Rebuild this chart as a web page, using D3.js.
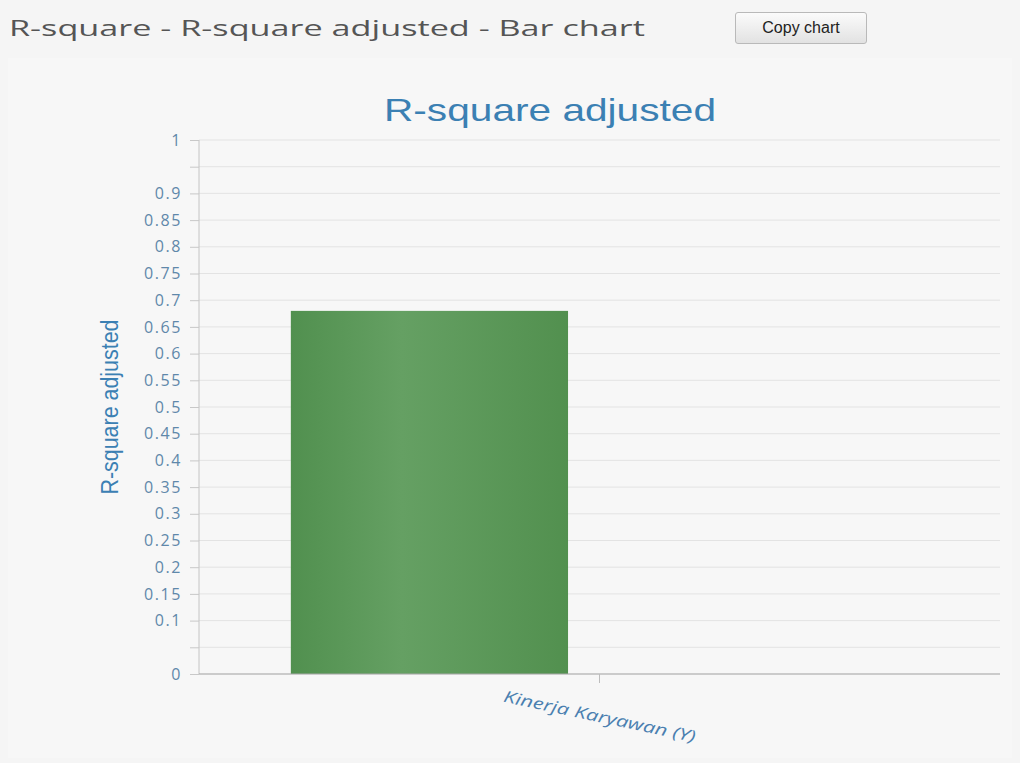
<!DOCTYPE html>
<html>
<head>
<meta charset="utf-8">
<script src="https://cdn.jsdelivr.net/npm/d3@7"></script>
<style>
  body { margin: 0; background: #f5f5f5; font-family: "Open Sans", sans-serif; }
  .copybtn { position: absolute; left: 735px; top: 12px; width: 132px; height: 32px; border: 1px solid #b9b9b9; border-radius: 3px;
    background: linear-gradient(#fbfbfb, #e2e2e2); font-family: "Liberation Sans Narrow", "Liberation Sans", Arial, sans-serif; font-size: 16px; color: #222;
    box-sizing: border-box; text-align: center; line-height: 30px; }
  #chart { position: absolute; left: 0; top: 0; }
</style>
</head>
<body>
<svg id="chart"></svg>
<div class="copybtn">Copy chart</div>
<script>
// data
var categories = ["Kinerja Karyawan (Y)"];
var series = ["R-square adjusted", ""];
var values = [0.68];
var yTicks = [0, 0.05, 0.1, 0.15, 0.2, 0.25, 0.3, 0.35, 0.4, 0.45, 0.5, 0.55, 0.6, 0.65, 0.7, 0.75, 0.8, 0.85, 0.9, 0.95, 1];
var hiddenLabels = [0.05, 0.95];

var W = 1020, H = 763;
var margin = {top: 140, right: 20, bottom: 89, left: 199},
    width = W - margin.left - margin.right,
    height = H - margin.top - margin.bottom;

var root = d3.select("#chart").attr("width", W).attr("height", H);

var defs = root.append("defs");
var grad = defs.append("linearGradient").attr("id", "barGrad")
  .attr("x1", "0%").attr("x2", "100%").attr("y1", "0%").attr("y2", "0%");
grad.append("stop").attr("offset", "0%").attr("stop-color", "#51904f");
grad.append("stop").attr("offset", "40%").attr("stop-color", "#65a063");
grad.append("stop").attr("offset", "100%").attr("stop-color", "#52904f");

// plot background panel
root.append("rect").attr("x", 8).attr("y", 58).attr("width", 1004).attr("height", 700).attr("fill", "#f7f7f7");

// page header
root.append("text")
  .attr("x", 9).attr("y", 36)
  .attr("fill", "#555")
  .attr("textLength", 636).attr("lengthAdjust", "spacingAndGlyphs")
  .style("font-family", "'Open Sans', sans-serif")
  .style("font-weight", 400)
  .style("font-size", "21px")
  .text("R-square - R-square adjusted - Bar chart");

// title
root.append("text")
  .attr("x", 550).attr("y", 121)
  .attr("text-anchor", "middle")
  .attr("fill", "#3b80b3")
  .attr("textLength", 332).attr("lengthAdjust", "spacingAndGlyphs")
  .style("font-family", "'Liberation Sans', Arial, sans-serif")
  .style("font-size", "32px")
  .text("R-square adjusted");

const svg = root.append("g")
  .attr("transform", `translate(${margin.left}, ${margin.top})`);

const y = d3.scaleLinear().domain([0, 1]).range([height, 0]);

const x = d3.scaleBand().domain(categories).range([0, width]).padding(0);
const x1 = d3.scaleBand().domain(series).range([0, x.bandwidth()])
  .paddingInner(0.185).paddingOuter(0.27);

// gridlines
svg.append("g")
  .selectAll("line")
  .data(yTicks)
  .join("line")
  .attr("x1", 0).attr("x2", width)
  .attr("y1", d => y(d)).attr("y2", d => y(d))
  .attr("stroke", "#e3e3e3")
  .attr("stroke-width", 1);

// y axis
const yAxis = svg.append("g")
  .call(d3.axisLeft(y).tickValues(yTicks).tickSize(9).tickPadding(8)
    .tickFormat(d => hiddenLabels.includes(d) ? "" : d3.format("~g")(d)));
yAxis.select(".domain").attr("stroke", "#c4c4c4").attr("d", `M0,0V${height}`);
yAxis.selectAll(".tick line").attr("stroke", "#c8c8c8");
yAxis.selectAll("text")
  .attr("fill", "#5f88aa")
  .style("font-family", "'Open Sans', sans-serif")
  .style("font-size", "16px")
  .style("letter-spacing", "1.6px");

// bars
svg.selectAll("rect.bar")
  .data(values)
  .join("rect")
  .attr("class", "bar")
  .attr("x", (d, i) => x(categories[i]) + x1(series[0]))
  .attr("width", x1.bandwidth())
  .attr("y", d => y(d))
  .attr("height", d => height - y(d))
  .attr("fill", "url(#barGrad)");

// x axis
const xAxis = svg.append("g")
  .attr("transform", `translate(0,${height})`)
  .call(d3.axisBottom(x).tickSize(9).tickFormat(""));
xAxis.select(".domain").attr("stroke", "#a9a9a9").attr("d", `M0,0H${width}`);
xAxis.selectAll(".tick line").attr("stroke", "#bdbdbd");

// x category label (rotated)
svg.append("g")
  .selectAll("text")
  .data(categories)
  .join("text")
  .attr("transform", d => `translate(${x(d) + x.bandwidth() / 2 - 1},${height + 48}) rotate(12)`)
  .attr("text-anchor", "middle")
  .attr("fill", "#4a7fb0")
  .attr("textLength", 196).attr("lengthAdjust", "spacingAndGlyphs")
  .style("font-family", "'Open Sans', sans-serif")
  .style("font-style", "italic")
  .style("font-size", "16px")
  .text(d => d);

// y axis label
svg.append("text")
  .attr("transform", `translate(${-81},${height / 2 - 0}) rotate(-90)`)
  .attr("text-anchor", "middle")
  .attr("fill", "#3b80b3")
  .attr("textLength", 175).attr("lengthAdjust", "spacingAndGlyphs")
  .style("font-family", "'Liberation Sans', Arial, sans-serif")
  .style("font-size", "23px")
  .text("R-square adjusted");
</script>
</body>
</html>
